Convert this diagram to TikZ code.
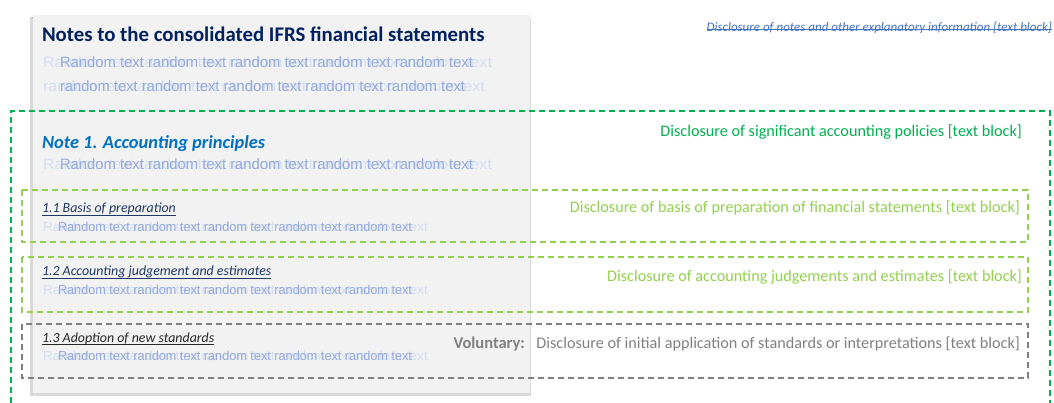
\documentclass[tikz,border=0pt]{standalone}
\usepackage{fontspec}
\setmainfont{Carlito}
\newfontfamily\arialf{Liberation Sans}
\usepackage{graphicx}
\definecolor{pagebg}{HTML}{F2F2F2}
\definecolor{navy}{HTML}{002060}
\definecolor{noteblue}{HTML}{0070C0}
\definecolor{subnavy}{HTML}{1F3864}
\definecolor{rndlt}{HTML}{D3DEF4}
\definecolor{rnddk}{HTML}{95AADD}
\definecolor{grn}{HTML}{00B050}
\definecolor{lgrn}{HTML}{92D050}
\definecolor{gry}{HTML}{808080}
\definecolor{topblue}{HTML}{4472C4}
\newcommand{\stretchw}[2]{\resizebox{#1}{\height}{#2}}
\tikzset{
  txt/.style={inner sep=0pt, outer sep=0pt},
  rndlight/.style={txt, text=rndlt, font=\arialf\fontsize{15}{15}\selectfont},
  rnddark/.style={txt, text=rnddk, font=\arialf\fontsize{15}{15}\selectfont},
  rndlights/.style={txt, text=rndlt, font=\arialf\fontsize{13}{13}\selectfont},
  rnddarks/.style={txt, text=rnddk, font=\arialf\fontsize{13}{13}\selectfont},
  dbox/.style={line width=1.3pt, dash pattern=on 6pt off 4pt},
  rlabel/.style={txt, anchor=base east, font=\fontsize{16.2}{16.2}\selectfont},
  subhead/.style={txt, anchor=base west, font=\itshape\fontsize{13.9}{13.9}\selectfont},
  uln/.style={line width=0.8pt},
}
\begin{document}
\begin{tikzpicture}[x=1pt,y=-1pt]
\useasboundingbox (0,0) rectangle (1054,403);
% page
\fill[black!30] (31,17) rectangle (530,395);
\fill[black!15] (30,18) rectangle (531,396);
\fill[pagebg] (33,15) rectangle (530,393);
% title
\node[txt, anchor=base west, text=navy, font=\bfseries\fontsize{20.8}{20.8}\selectfont] (title) at (42,42) {Notes to the consolidated IFRS financial statements};
\node[rndlight, anchor=base west] (r1a) at (43,68) {\stretchw{449pt}{Random text random text random text random text random text}};
\node[rnddark, anchor=base west] (r1b) at (60,68) {\stretchw{413pt}{Random text random text random text random text random text}};
\node[rndlight, anchor=base west] (r2a) at (43,92) {\stretchw{442pt}{random text random text random text random text random text}};
\node[rnddark, anchor=base west] (r2b) at (60,92) {\stretchw{405pt}{random text random text random text random text random text}};
% top right
\node[txt, anchor=base east, text=topblue, font=\itshape\fontsize{13}{13}\selectfont] (topr) at (1052,32) {Disclosure of notes and other explanatory information [text block]};
\draw[topblue, line width=0.7pt] ([yshift=3pt]topr.base west) -- ([yshift=3pt]topr.base east);
% outer green
\draw[dbox, grn] (11,403) -- (11,111) -- (1050,111) -- (1050,403);
\node[rlabel, text=grn] (lsig) at (1022,137) {Disclosure of significant accounting policies [text block]};
\node[txt, anchor=base west, text=noteblue, font=\bfseries\itshape\fontsize{18.4}{18.4}\selectfont] (note1) at (42,149) {Note 1. Accounting principles};
\node[rndlight, anchor=base west] (r3a) at (43,170) {\stretchw{449pt}{Random text random text random text random text random text}};
\node[rnddark, anchor=base west] (r3b) at (60,170) {\stretchw{413pt}{Random text random text random text random text random text}};
% box 1.1
\draw[dbox, lgrn] (22,190) rectangle (1028,242);
\node[rlabel, text=lgrn] (lbasis) at (1020,213) {Disclosure of basis of preparation of financial statements [text block]};
\node[subhead, text=subnavy] (h11) at (42,213) {1.1 Basis of preparation};
\draw[uln, subnavy] ([yshift=-2pt]h11.base west) -- ([yshift=-2pt]h11.base east);
\node[rndlights, anchor=base west] (r4a) at (43,232) {\stretchw{385pt}{Random text random text random text random text random text}};
\node[rnddarks, anchor=base west] (r4b) at (58,232) {\stretchw{354pt}{Random text random text random text random text random text}};
% box 1.2
\draw[dbox, lgrn] (22,257) rectangle (1028,312);
\node[rlabel, text=lgrn] (ljudg) at (1022,281) {Disclosure of accounting judgements and estimates [text block]};
\node[subhead, text=subnavy] (h12) at (42,276) {1.2 Accounting judgement and estimates};
\draw[uln, subnavy] ([yshift=-2pt]h12.base west) -- ([yshift=-2pt]h12.base east);
\node[rndlights, anchor=base west] (r5a) at (43,294) {\stretchw{385pt}{Random text random text random text random text random text}};
\node[rnddarks, anchor=base west] (r5b) at (58,294) {\stretchw{354pt}{Random text random text random text random text random text}};
% box 1.3
\draw[dbox, gry] (22,324) rectangle (1028,378);
\node[rlabel, text=gry] (linit) at (1020,348) {Disclosure of initial application of standards or interpretations [text block]};
\node[txt, anchor=base east, text=gry, font=\bfseries\fontsize{16.5}{16.5}\selectfont] (vol) at (525,348) {Voluntary:};
\node[subhead, text=black!85] (h13) at (42,342) {1.3 Adoption of new standards};
\draw[uln, black!85] ([yshift=-2pt]h13.base west) -- ([yshift=-2pt]h13.base east);
\node[rndlights, anchor=base west] (r6a) at (43,360) {\stretchw{385pt}{Random text random text random text random text random text}};
\node[rnddarks, anchor=base west] (r6b) at (58,360) {\stretchw{354pt}{Random text random text random text random text random text}};
\end{tikzpicture}
\end{document}
